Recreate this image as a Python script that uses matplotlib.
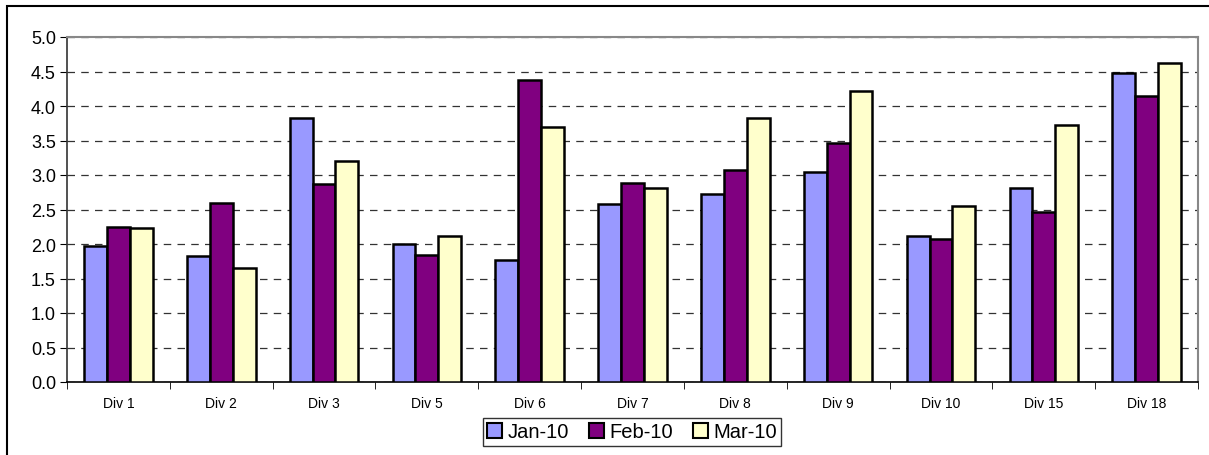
import numpy as np
import matplotlib.pyplot as plt
from matplotlib.patches import Rectangle

plt.rcParams['font.family'] = ['Liberation Sans', 'DejaVu Sans']

divisions = ["Div 1", "Div 2", "Div 3", "Div 5", "Div 6", "Div 7",
             "Div 8", "Div 9", "Div 10", "Div 15", "Div 18"]
jan10 = [1.97, 1.82, 3.82, 2.00, 1.77, 2.58, 2.73, 3.04, 2.12, 2.81, 4.48]
feb10 = [2.25, 2.59, 2.87, 1.84, 4.37, 2.89, 3.07, 3.46, 2.07, 2.46, 4.15]
mar10 = [2.23, 1.65, 3.20, 2.11, 3.70, 2.81, 3.82, 4.22, 2.55, 3.72, 4.62]

series = [("Jan-10", jan10, "#9999ff"),
          ("Feb-10", feb10, "#800080"),
          ("Mar-10", mar10, "#ffffcc")]

W, H = 1209, 456
fig = plt.figure(figsize=(W / 100, H / 100), dpi=100)

# outer chart border (runs off the right/bottom edge like the original)
fig.patches.append(Rectangle((7 / W, -0.1), 1.2, 1 - 7 / H + 0.1,
                             transform=fig.transFigure, fill=False,
                             edgecolor='black', linewidth=1.5))

left, right, top, bottom = 67, 1198, 38, 383
ax = fig.add_axes([left / W, 1 - bottom / H, (right - left) / W, (bottom - top) / H])

x = np.arange(len(divisions))
bw = 1 / 4.5
for i, (name, vals, col) in enumerate(series):
    ax.bar(x + (i - 1) * bw, vals, bw, color=col, edgecolor='black',
           linewidth=1.8, label=name, zorder=3)

ax.set_xlim(-0.5, len(divisions) - 0.5)
ax.set_ylim(0, 5)
ax.set_yticks(np.arange(0, 5.01, 0.5))
ax.set_yticklabels([f"{v:.1f}" for v in np.arange(0, 5.01, 0.5)], fontsize=13)
ax.set_xticks(x)
ax.set_xticklabels(divisions, fontsize=10)
ax.set_xticks(np.arange(-0.5, len(divisions), 1), minor=True)
ax.tick_params(axis='x', which='major', length=0, pad=10)
ax.tick_params(axis='x', which='minor', length=5, direction='out', color='black')
ax.tick_params(axis='y', length=5, direction='out', pad=3)

ax.grid(axis='y', linestyle=(0, (6, 5)), color='#333333', linewidth=0.9, zorder=0)
for s in ['top', 'right']:
    ax.spines[s].set_color('#888888')
    ax.spines[s].set_linewidth(1.5)
ax.spines['left'].set_color('#333333')
ax.spines['bottom'].set_color('black')
ax.spines['left'].set_linewidth(1.2)
ax.spines['bottom'].set_linewidth(1.2)

leg = fig.legend(loc='center', bbox_to_anchor=(632 / W, 1 - 433 / H), ncol=3,
                 fontsize=14.5, frameon=True, fancybox=False, edgecolor='black',
                 handlelength=0.75, handleheight=0.75, handletextpad=0.25,
                 columnspacing=1.0, borderpad=0.2, borderaxespad=0)
leg.get_frame().set_linewidth(1.0)
for h in leg.legend_handles:
    h.set_linewidth(1.5)

fig.savefig("out.png", dpi=100)
